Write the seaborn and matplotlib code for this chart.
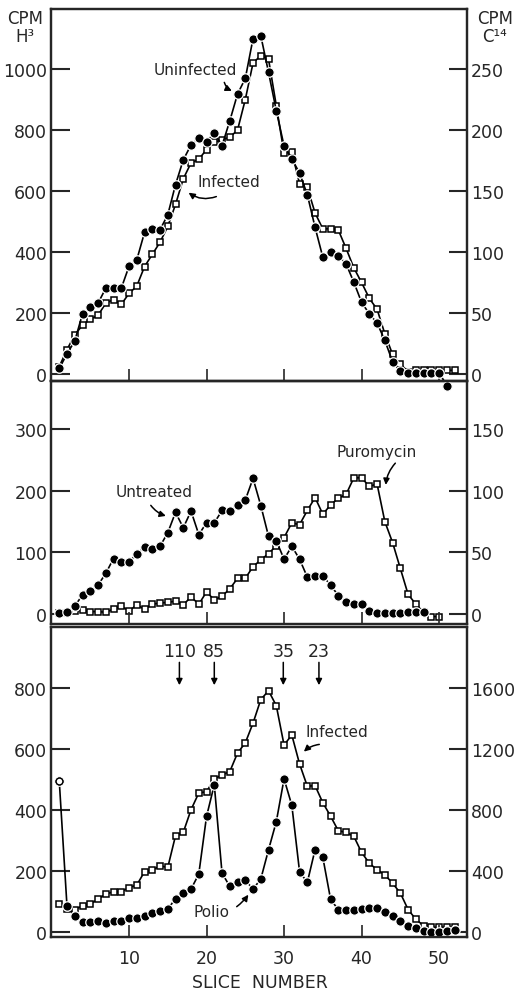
import numpy as np
import pandas as pd
import matplotlib.pyplot as plt
import seaborn as sns

sns.set_style("ticks")
plt.rcParams['font.family'] = ['DejaVu Sans']

#top panel: uninfected (H3, circles) vs infected (C14, squares)
top_slices_h3 = np.arange(1, 52)
top_h3_uninfected = [18, 66, 108, 197, 219, 232, 281, 281, 281, 353, 374, 464, 475, 473, 522,
                     621, 702, 751, 773, 762, 790, 749, 830, 918, 969, 1100, 1109, 989, 863, 748,
                     705, 659, 588, 481, 383, 399, 388, 361, 301, 235, 197, 167, 110, 40, 10,
                     4, 4, 4, 4, 4, -38]
top_slices_c14 = np.arange(1, 53)
top_c14_infected = [6, 20, 32, 40, 45, 48, 58, 61, 57, 66, 72, 88, 98, 108, 121,
                    139, 160, 173, 176, 184, 190, 192, 194, 200, 225, 255, 261, 258, 220, 181,
                    182, 156, 153, 132, 119, 119, 118, 103, 87, 75, 62, 53, 33, 16, 8,
                    2, 3, 3, 3, 3, 3, 3]

#middle panel: untreated (circles) vs puromycin (squares)
mid_slices_untreated = np.arange(1, 49)
mid_untreated = [1, 4, 13, 31, 37, 47, 66, 90, 84, 84, 98, 108, 105, 110, 132,
                 165, 140, 167, 129, 148, 148, 168, 167, 177, 185, 220, 176, 126, 119, 89,
                 110, 89, 60, 62, 62, 47, 30, 20, 16, 16, 5, 2, 2, 2, 2, 3, 3, 3]
mid_slices_puro = np.arange(1, 51)
mid_puromycin = [0.5, 1, 2.5, 3, 2, 2, 1.5, 4, 6.5, 2.5, 7.5, 4, 8, 9, 9.5,
                 10.5, 7.5, 14, 8, 18, 11.5, 14.5, 20.5, 29, 29, 38.5, 44, 49, 55.5, 62,
                 74, 72.5, 84, 94.5, 81, 88.5, 94, 97, 110.5, 110.5, 103.5, 105.5, 75, 58, 37,
                 16, 8, 1.5, -2, -2]

#bottom panel: polio (circles) vs infected (squares)
bot_slices = np.arange(1, 53)
bot_polio = [496, 85, 53, 32, 32, 35, 30, 37, 37, 45, 45, 53, 64, 70, 75,
             110, 127, 141, 190, 379, 483, 193, 150, 165, 170, 141, 174, 270, 362, 502,
             416, 198, 163, 270, 245, 108, 73, 72, 72, 75, 78, 78, 65, 52, 36,
             21, 14, 4, 0, 0, 4, 6]
bot_infected = [184, 154, 148, 172, 184, 216, 250, 264, 264, 292, 308, 396, 406, 434, 424,
                632, 654, 802, 912, 920, 1004, 1030, 1052, 1174, 1240, 1370, 1524, 1582, 1484, 1226,
                1292, 1102, 956, 960, 848, 760, 664, 654, 628, 522, 452, 408, 376, 320, 256,
                148, 84, 42, 32, 32, 32, 32]

marker_labels = ["110", "85", "35", "23"]
marker_slices = [16.5, 21, 29.9, 34.5]

circle_kw = dict(color="black", marker="o", markersize=6.8, markeredgecolor="white",
                 markeredgewidth=0.9, linewidth=1.2, clip_on=False)
square_kw = dict(color="black", marker="s", markersize=5.0, markerfacecolor="white",
                 markeredgecolor="black", markeredgewidth=1.1, linewidth=1.2, clip_on=False)

fig = plt.figure(figsize=(5.17, 9.95), dpi=100)
left, width = 0.0996, 0.8037
ax_top = fig.add_axes([left, 0.6161, width, 0.3739])
ax_mid = fig.add_axes([left, 0.3719, width, 0.2442])
ax_bot = fig.add_axes([left, 0.0573, width, 0.3116])

def setup(ax, ylim, yticks, factor, rticks, xlabels):
    ax2 = ax.twinx()
    ax.set_xlim(0, 53.6)
    ax.set_ylim(ylim)
    ax2.set_ylim(ylim[0] * factor, ylim[1] * factor)
    ax.set_yticks(yticks)
    ax2.set_yticks(rticks)
    ax.set_xticks([10, 20, 30, 40, 50])
    if not xlabels:
        ax.set_xticklabels([])
    ax.tick_params(axis="y", direction="in", length=14, width=1.5, labelsize=12.5, pad=3)
    ax2.tick_params(axis="y", direction="in", length=13, width=1.5, labelsize=12.5, pad=3)
    ax.tick_params(axis="x", direction="in", length=9, width=1.2, labelsize=12.5, pad=9)
    for a in (ax, ax2):
        for s in a.spines.values():
            s.set_visible(True)
            s.set_linewidth(1.6)
    return ax2

ax_top2 = setup(ax_top, (-23, 1197), [0, 200, 400, 600, 800, 1000], 0.25,
                [0, 50, 100, 150, 200, 250], False)
ax_mid2 = setup(ax_mid, (-16, 378), [0, 100, 200, 300], 0.5, [0, 50, 100, 150], False)
ax_bot2 = setup(ax_bot, (-16, 1000), [0, 200, 400, 600, 800], 2.0,
                [0, 400, 800, 1200, 1600], True)

#top
sns.lineplot(x=top_slices_c14, y=top_c14_infected, ax=ax_top2, **square_kw)
sns.lineplot(x=top_slices_h3, y=top_h3_uninfected, ax=ax_top, **circle_kw)

#middle
sns.lineplot(x=mid_slices_puro, y=mid_puromycin, ax=ax_mid2, **square_kw)
sns.lineplot(x=mid_slices_untreated, y=mid_untreated, ax=ax_mid, **circle_kw)

#bottom
sns.lineplot(x=bot_slices, y=bot_infected, ax=ax_bot2, **square_kw)
sns.lineplot(x=bot_slices, y=bot_polio, ax=ax_bot, **circle_kw)
sns.scatterplot(x=bot_slices[:1], y=bot_polio[:1], ax=ax_bot, marker="o", s=24,
                facecolor="white", edgecolor="black", linewidth=1.0, zorder=5, clip_on=False)

for a in (ax_top, ax_mid, ax_bot):
    a.set_zorder(2)
    a.patch.set_visible(False)

txt = dict(fontsize=11, ha="center", va="center")
arw = dict(arrowstyle="-|>", color="black", lw=1.1, mutation_scale=9)

ax_top.text(18.6, 1000, "Uninfected", **txt)
ax_top.annotate("", xy=(23.6, 925), xytext=(22.2, 965),
                arrowprops=dict(connectionstyle="arc3,rad=0.3", **arw))
ax_top.text(22.9, 630, "Infected", **txt)
ax_top.annotate("", xy=(17.4, 600), xytext=(21.6, 585),
                arrowprops=dict(connectionstyle="arc3,rad=-0.3", **arw))

ax_mid.text(41.9, 264, "Puromycin", **txt)
ax_mid.annotate("", xy=(43.1, 205), xytext=(44.6, 248),
                arrowprops=dict(connectionstyle="arc3,rad=0.2", **arw))
ax_mid.text(13.2, 198, "Untreated", **txt)
ax_mid.annotate("", xy=(15.1, 158), xytext=(12.6, 180),
                arrowprops=dict(connectionstyle="arc3,rad=0.2", **arw))

for lab, s in zip(marker_labels, marker_slices):
    ax_bot.text(s, 921, lab, **dict(txt, fontsize=12.5))
    ax_bot.annotate("", xy=(s, 800), xytext=(s, 893), arrowprops=arw)
ax_bot.text(36.8, 659, "Infected", **txt)
ax_bot.annotate("", xy=(32.3, 585), xytext=(34.9, 616),
                arrowprops=dict(connectionstyle="arc3,rad=0.2", **arw))
ax_bot.text(20.7, 69, "Polio", **txt)
ax_bot.annotate("", xy=(25.6, 130), xytext=(23.6, 78),
                arrowprops=dict(connectionstyle="arc3,rad=0.1", **arw))

fig.text(0.048, 0.990, "CPM\nH³", ha="center", va="top", fontsize=12, linespacing=1.0)
fig.text(0.957, 0.990, "CPM\nC¹⁴", ha="center", va="top", fontsize=12, linespacing=1.0)
fig.text(0.503, 0.003, "SLICE  NUMBER", ha="center", va="bottom", fontsize=12.5)

plt.savefig("out.png", dpi=100)
